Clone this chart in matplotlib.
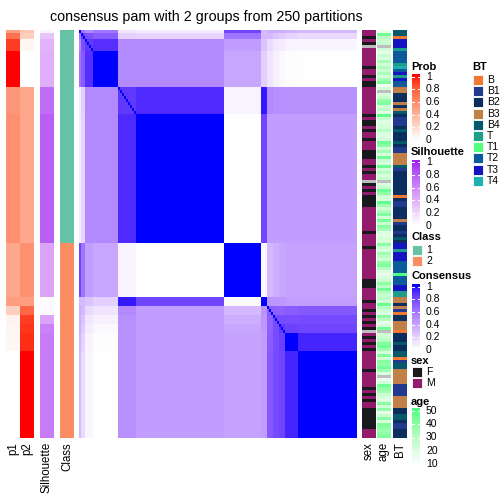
import numpy as np
import matplotlib
matplotlib.use("Agg")
import matplotlib.pyplot as plt
from matplotlib.colors import ListedColormap, to_rgb
from matplotlib.patches import Rectangle

plt.rcParams["font.family"] = ["Liberation Sans", "DejaVu Sans"]

W = H = 504
TOP, BOT = 30, 438

# ---- sample blocks (in heatmap order) ----
seg_names = ["A0", "A1", "A2", "A3", "B1", "B3", "C", "D", "E1a", "E1b", "E1c", "E2", "F"]
seg_sizes = [1, 2, 4, 12, 9, 43, 18, 3, 3, 3, 3, 6, 29]
seg_class = [1, 1, 1, 1, 1, 1, 2, 2, 2, 2, 2, 2, 2]
seg_p1 = [0.50, 0.70, 0.90, 1.00, 0.53, 0.57, 0.45, 0.50, 0.25, 0.06, 0.05, 0.04, 0.00]
seg_p2 = [0.30, 0.25, 0.05, 0.00, 0.45, 0.45, 0.57, 0.50, 0.75, 0.90, 0.92, 0.94, 1.00]
seg_sil = [0.05, 0.30, 0.38, 0.40, 0.72, 0.78, 0.45, 0.02, 0.03, 0.45, 0.62, 0.65, 0.65]

# block consensus values (rows/cols follow seg_names)
seg_cons = [
    [1.00, 0.60, 0.50, 0.60, 0.10, 0.08, 0.80, 0.30, 0.35, 0.35, 0.35, 0.32, 0.30],
    [0.60, 0.85, 0.75, 0.70, 0.20, 0.18, 0.60, 0.30, 0.30, 0.25, 0.22, 0.18, 0.15],
    [0.50, 0.75, 0.85, 0.88, 0.50, 0.50, 0.42, 0.25, 0.15, 0.10, 0.08, 0.05, 0.04],
    [0.60, 0.70, 0.88, 1.00, 0.50, 0.50, 0.38, 0.20, 0.12, 0.06, 0.03, 0.01, 0.00],
    [0.10, 0.20, 0.50, 0.50, 0.85, 0.90, 0.05, 0.95, 0.50, 0.48, 0.47, 0.47, 0.47],
    [0.08, 0.18, 0.50, 0.50, 0.90, 1.00, 0.00, 0.80, 0.42, 0.42, 0.42, 0.42, 0.42],
    [0.80, 0.60, 0.42, 0.38, 0.05, 0.00, 1.00, 0.03, 0.30, 0.35, 0.38, 0.40, 0.40],
    [0.30, 0.30, 0.25, 0.20, 0.95, 0.80, 0.03, 1.00, 0.46, 0.45, 0.44, 0.42, 0.42],
    [0.35, 0.30, 0.15, 0.12, 0.50, 0.42, 0.30, 0.46, 0.70, 0.68, 0.68, 0.70, 0.72],
    [0.35, 0.25, 0.10, 0.06, 0.48, 0.42, 0.35, 0.45, 0.68, 0.78, 0.77, 0.77, 0.78],
    [0.35, 0.22, 0.08, 0.03, 0.47, 0.42, 0.38, 0.44, 0.68, 0.77, 0.85, 0.82, 0.80],
    [0.32, 0.18, 0.05, 0.01, 0.47, 0.42, 0.40, 0.42, 0.70, 0.77, 0.82, 1.00, 0.92],
    [0.30, 0.15, 0.04, 0.00, 0.47, 0.42, 0.40, 0.42, 0.72, 0.78, 0.80, 0.92, 1.00],
]

# per-sample annotations (run lengths, heatmap order)
sex_runs = [("M", 2), ("F", 1), ("M", 1), ("F", 1), ("N", 1), ("M", 6), ("F", 1), ("M", 2), ("F", 1),
            ("M", 1), ("F", 2), ("M", 9), ("F", 1), ("M", 1), ("F", 2), ("M", 1), ("F", 1),
            ("M", 2), ("F", 1), ("M", 3), ("F", 3), ("M", 2), ("F", 1), ("M", 1), ("F", 1), ("M", 2),
            ("N", 1), ("F", 1), ("M", 1), ("F", 1), ("M", 1), ("F", 4), ("M", 8), ("F", 1),
            ("M", 4), ("F", 1), ("M", 10), ("F", 3), ("M", 4), ("F", 1), ("M", 2), ("F", 1), ("M", 1),
            ("F", 1), ("M", 1), ("F", 1), ("M", 1), ("F", 1), ("N", 1),
            ("M", 1), ("F", 1), ("M", 1), ("F", 1), ("M", 1), ("F", 1), ("M", 6), ("F", 1), ("M", 5),
            ("F", 1), ("M", 1), ("F", 1), ("M", 1), ("F", 1), ("M", 2), ("F", 7), ("M", 3)]

bt_runs = [("B4", 2), ("B", 1), ("T3", 3), ("T", 1), ("T2", 4), ("T", 1), ("T4", 1), ("T2", 1),
           ("T3", 1), ("T", 1), ("T3", 1), ("T2", 2),
           ("B3", 2), ("B2", 3), ("B3", 1), ("B2", 1), ("B3", 1), ("B4", 1), ("B2", 1), ("B1", 3),
           ("B2", 1), ("B4", 1),
           ("B2", 3), ("B4", 1), ("B2", 1), ("B1", 2), ("B3", 4), ("B4", 1), ("B1", 1), ("B2", 8),
           ("B", 1), ("B2", 1), ("B1", 2), ("B2", 4), ("B3", 1), ("B1", 1), ("B2", 2), ("B1", 1),
           ("B2", 1), ("B4", 1), ("B2", 1),
           ("T3", 2), ("T", 1), ("T3", 3), ("T2", 4), ("T1", 1), ("T2", 3), ("T3", 2), ("T", 2),
           ("B3", 2), ("B2", 1), ("B3", 1), ("B1", 1), ("B", 1), ("B2", 2), ("B3", 3), ("B", 1),
           ("B2", 3), ("B4", 1), ("B2", 2), ("B4", 2), ("B", 1), ("B1", 1), ("B4", 2), ("B3", 5),
           ("B1", 4), ("B3", 4), ("B2", 2), ("B4", 2), ("B2", 1), ("B1", 2), ("B2", 3)]

age = [15, 45, 28, 24, 25, None, 22, 16, 25, 20, 33, 22, 30, 23, 32, 22, 33, 42, 12, 21,
       None, 21, 25, 38, 42, 22, 27, 18, 48, 25, 18, 20, 22, 30,
       20, 18, 22, 45, 40, 22, 35, 20, 45, 24, 20, 46, 22, 30, 20, 25, None, 20, 25, 45,
       38, 22, 20, 48, 35, 22, 30, 42, 22, 44, 25, 40, 33, 18,
       18, 22, 20, 40, 24, 20, 35, 28, 22, 38, 42, 30, 18, 15, 20, 25, 40, 28, 45, 30,
       25, 28, 22, 46, 30, 22, 18, 40, 28, 15, 20, 45, None,
       22, 25, 30, 42, 45, 35, 20, 42, 22, 40, 38, 44, 35, 20, None, 15, 22, 45, 40, 35,
       25, 20, 18, 40, 22, 38, 15, 25, 40, 20, 42, 40, 35, 38, 42]

bt_levels = ["B", "B1", "B2", "B3", "B4", "T", "T1", "T2", "T3", "T4"]
bt_colors = ["#F07830", "#203A8E", "#0B2E5E", "#C08048", "#04596A",
             "#1C9E88", "#52FF7E", "#0B5A9C", "#1414C0", "#1CB2B0"]
class_colors = {1: "#66C2A5", 2: "#FC8D62"}
sex_colors = {"F": "#17191C", "M": "#921B6C", "N": "#BEBEBE"}
NA_COLOR = "#BEBEBE"


# ---- colour ramps interpolated in LAB (like colorRamp2) ----
M_XYZ = np.array([[0.4124, 0.3576, 0.1805], [0.2126, 0.7152, 0.0722], [0.0193, 0.1192, 0.9505]])
WHITE_PT = np.array([0.95047, 1.0, 1.08883])


def to_lab(rgb):
    rgb = np.asarray(rgb, float)
    lin = np.where(rgb <= 0.04045, rgb / 12.92, ((rgb + 0.055) / 1.055) ** 2.4)
    xyz = lin @ M_XYZ.T / WHITE_PT
    f = np.where(xyz > 0.008856, np.cbrt(xyz), 7.787 * xyz + 16 / 116)
    return np.stack([116 * f[..., 1] - 16, 500 * (f[..., 0] - f[..., 1]),
                     200 * (f[..., 1] - f[..., 2])], -1)


def from_lab(lab):
    fy = (lab[..., 0] + 16) / 116
    f = np.stack([fy + lab[..., 1] / 500, fy, fy - lab[..., 2] / 200], -1)
    xyz = np.where(f > 0.206893, f ** 3, (f - 16 / 116) / 7.787) * WHITE_PT
    lin = np.clip(xyz @ np.linalg.inv(M_XYZ).T, 0, 1)
    return np.clip(np.where(lin <= 0.0031308, 12.92 * lin, 1.055 * lin ** (1 / 2.4) - 0.055), 0, 1)


def lab_cmap(c0, c1, n=256):
    a, b = to_lab(to_rgb(c0)), to_lab(to_rgb(c1))
    t = np.linspace(0, 1, n)[:, None]
    return ListedColormap(from_lab(a + (b - a) * t))


prob_cmap = lab_cmap("white", "red")
sil_cmap = lab_cmap("white", "#A020F0")
cons_cmap = lab_cmap("white", "blue")
age_cmap = lab_cmap("white", "#50FF88")
AGE_MIN, AGE_MAX = 8, 50

# ---- expand to samples ----
idx = np.repeat(np.arange(len(seg_sizes)), seg_sizes)
N = len(idx)
cons = np.array(seg_cons)[np.ix_(idx, idx)]
np.fill_diagonal(cons, 1.0)
p1 = np.array(seg_p1)[idx]
p2 = np.array(seg_p2)[idx]
sil = np.array(seg_sil)[idx]
cls = np.array(seg_class)[idx]
sex = [v for v, n in sex_runs for _ in range(n)]
bt = [v for v, n in bt_runs for _ in range(n)]
age_v = np.array([np.nan if a is None else a for a in age], float)

fig = plt.figure(figsize=(W / 100, H / 100), dpi=100)


def px_axes(x0, y0, x1, y1):
    ax = fig.add_axes([x0 / W, 1 - y1 / H, (x1 - x0) / W, (y1 - y0) / H])
    ax.set_axis_off()
    return ax


def ftext(x, y, s, **kw):
    fig.text(x / W, 1 - y / H, s, **kw)


def strip(x0, x1, rgb, label):
    ax = px_axes(x0, TOP, x1, BOT)
    ax.imshow(np.asarray(rgb)[:, None, :3], aspect="auto", interpolation="nearest")
    ftext((x0 + x1) / 2, BOT + 4, label, rotation=90, ha="center", va="top", fontsize=8.3)


strip(6, 20, prob_cmap(p1), "p1")
strip(20, 34, prob_cmap(p2), "p2")
strip(40, 54, sil_cmap(sil), "Silhouette")
strip(60, 74, [to_rgb(class_colors[c]) for c in cls], "Class")

ax = px_axes(79, TOP, 357, BOT)
ax.imshow(cons, cmap=cons_cmap, vmin=0, vmax=1, aspect="auto", interpolation="nearest")

strip(362, 376, [to_rgb(sex_colors[s]) for s in sex], "sex")
age_rgb = age_cmap((age_v - AGE_MIN) / (AGE_MAX - AGE_MIN))[:, :3]
age_rgb[np.isnan(age_v)] = to_rgb(NA_COLOR)
strip(377, 391, age_rgb, "age")
strip(393, 407, [to_rgb(bt_colors[bt_levels.index(b)]) for b in bt], "BT")

ftext(206, 17, "consensus pam with 2 groups from 250 partitions", ha="center", va="center",
      fontsize=10.3)


# ---- legends ----
def cbar_legend(title, ty, y_hi, y_lo, cmap, vals, labels, vmin, vmax):
    ftext(411, ty, title, fontweight="bold", fontsize=8, va="center")
    ax = px_axes(412, y_hi - 2.5, 420, y_lo + 2.5)
    scale = (vmax - vmin) / (y_lo - y_hi)
    lo, hi = vmin - 2.5 * scale, vmax + 2.5 * scale
    grad = np.linspace(lo, hi, 256)[:, None]
    ax.imshow(grad, cmap=cmap, vmin=vmin, vmax=vmax, origin="lower", aspect="auto",
              extent=[0, 1, lo, hi])
    ax.set_xlim(0, 1)
    ax.set_ylim(lo, hi)
    for v, s in zip(vals, labels):
        ax.plot([0, 0.25], [v, v], color="white", lw=0.7)
        ax.plot([0.75, 1], [v, v], color="white", lw=0.7)
        ftext(426, y_lo - (v - vmin) / scale, s, fontsize=7.5, va="center")


def box_legend(title, x, ty, y_first, names, colors):
    ftext(x - 1, ty, title, fontweight="bold", fontsize=8, va="center")
    for i, (nm, c) in enumerate(zip(names, colors)):
        y0 = y_first + i * 11.2
        fig.add_artist(Rectangle((x / W, 1 - (y0 + 10) / H), 10 / W, 10 / H,
                                 transform=fig.transFigure, fc=c, ec="white", lw=0.6))
        ftext(x + 14, y0 + 5, nm, fontsize=7.5, va="center")


prob_ticks = [0, 0.2, 0.4, 0.6, 0.8, 1]
prob_labels = ["0", "0.2", "0.4", "0.6", "0.8", "1"]
cbar_legend("Prob", 67, 76.7, 140, prob_cmap, prob_ticks, prob_labels, 0, 1)
cbar_legend("Silhouette", 152.3, 162.3, 225.7, sil_cmap, prob_ticks, prob_labels, 0, 1)
box_legend("Class", 412, 236.7, 244.7, ["1", "2"], [class_colors[1], class_colors[2]])
cbar_legend("Consensus", 276, 286.7, 350, cons_cmap, prob_ticks, prob_labels, 0, 1)
box_legend("sex", 412, 360.7, 366.7, ["F", "M"], [sex_colors["F"], sex_colors["M"]])
age_ticks = [10, 20, 30, 40, 50]
cbar_legend("age", 401.7, 410.7, 464.3, age_cmap, age_ticks, [str(a) for a in age_ticks],
            10, 50)
box_legend("BT", 473, 67, 75, bt_levels, bt_colors)

fig.savefig("out.png", dpi=100)
